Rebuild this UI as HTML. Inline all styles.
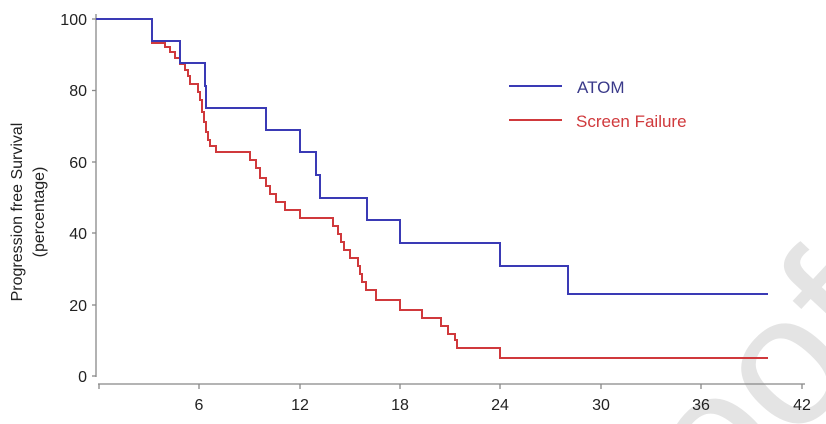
<!DOCTYPE html>
<html><head><meta charset="utf-8"><style>
html,body{margin:0;padding:0;background:#fff;width:826px;height:424px;overflow:hidden}
svg{display:block;overflow:hidden}
svg text{font-family:"Liberation Sans",sans-serif}
</style></head><body>
<svg width="826" height="424" viewBox="0 0 826 424" xmlns="http://www.w3.org/2000/svg">
<text transform="translate(722,520) rotate(-47)" font-size="185" fill="#e4e4e4">oof</text>
<!-- axes -->
<g stroke="#888" stroke-width="1.3" fill="none">
<line x1="96" y1="14" x2="96" y2="377"/>
<line x1="92" y1="19" x2="96" y2="19"/>
<line x1="92" y1="90.5" x2="96" y2="90.5"/>
<line x1="92" y1="162" x2="96" y2="162"/>
<line x1="92" y1="233" x2="96" y2="233"/>
<line x1="92" y1="305" x2="96" y2="305"/>
<line x1="92" y1="376" x2="96" y2="376"/>
<line x1="98" y1="384" x2="805" y2="384"/>
<line x1="99" y1="384" x2="99" y2="389"/>
<line x1="199" y1="384" x2="199" y2="389"/>
<line x1="300" y1="384" x2="300" y2="389"/>
<line x1="400" y1="384" x2="400" y2="389"/>
<line x1="500" y1="384" x2="500" y2="389"/>
<line x1="601" y1="384" x2="601" y2="389"/>
<line x1="701" y1="384" x2="701" y2="389"/>
<line x1="802" y1="384" x2="802" y2="389"/>
</g>
<g font-size="16" fill="#222" text-anchor="end">
<text x="87" y="25">100</text>
<text x="87" y="96">80</text>
<text x="87" y="168">60</text>
<text x="87" y="239">40</text>
<text x="87" y="311">20</text>
<text x="87" y="382">0</text>
</g>
<g font-size="16" fill="#222" text-anchor="middle">
<text x="199" y="410">6</text>
<text x="300" y="410">12</text>
<text x="400" y="410">18</text>
<text x="500" y="410">24</text>
<text x="601" y="410">30</text>
<text x="701" y="410">36</text>
<text x="802" y="410">42</text>
</g>
<g font-size="16" fill="#222" text-anchor="middle">
<text transform="translate(22,212) rotate(-90)">Progression free Survival</text>
<text transform="translate(44,212) rotate(-90)">(percentage)</text>
</g>
<!-- red -->
<polyline fill="none" stroke="#d0393c" stroke-width="2" points="96,19 152,19 152,43 165,43 165,47 170,47 170,52 175,52 175,58 180,58 180,64 185,64 185,70 188,70 188,76 190,76 190,84 198,84 198,92 200,92 200,100 202,100 202,112 204,112 204,122 206,122 206,132 208,132 208,140 210,140 210,146 216,146 216,152 250,152 250,160 256,160 256,168 260,168 260,178 266,178 266,186 270,186 270,194 276,194 276,202 285,202 285,210 300,210 300,218 333,218 333,226 338,226 338,234 341,234 341,242 344,242 344,250 350,250 350,258 358,258 358,266 360,266 360,274 362,274 362,282 366,282 366,290 376,290 376,300 400,300 400,310 422,310 422,318 441,318 441,326 448,326 448,334 455,334 455,340 457,340 457,348 500,348 500,358 768,358"/>
<!-- blue -->
<polyline fill="none" stroke="#3a3ab5" stroke-width="2" points="96,19 152,19 152,41 180,41 180,63 205,63 205,86 206,86 206,108 266,108 266,130 300,130 300,152 316,152 316,175 320,175 320,198 367,198 367,220 400,220 400,243 500,243 500,266 568,266 568,294 768,294"/>
<!-- legend -->
<line x1="509" y1="86" x2="562" y2="86" stroke="#3a3ab5" stroke-width="2"/>
<line x1="509" y1="120" x2="562" y2="120" stroke="#d0393c" stroke-width="2"/>
<text x="577" y="93" font-size="17" fill="#3a3a8a">ATOM</text>
<text x="576" y="127" font-size="17" fill="#d0393c">Screen Failure</text>
</svg>
</body></html>
